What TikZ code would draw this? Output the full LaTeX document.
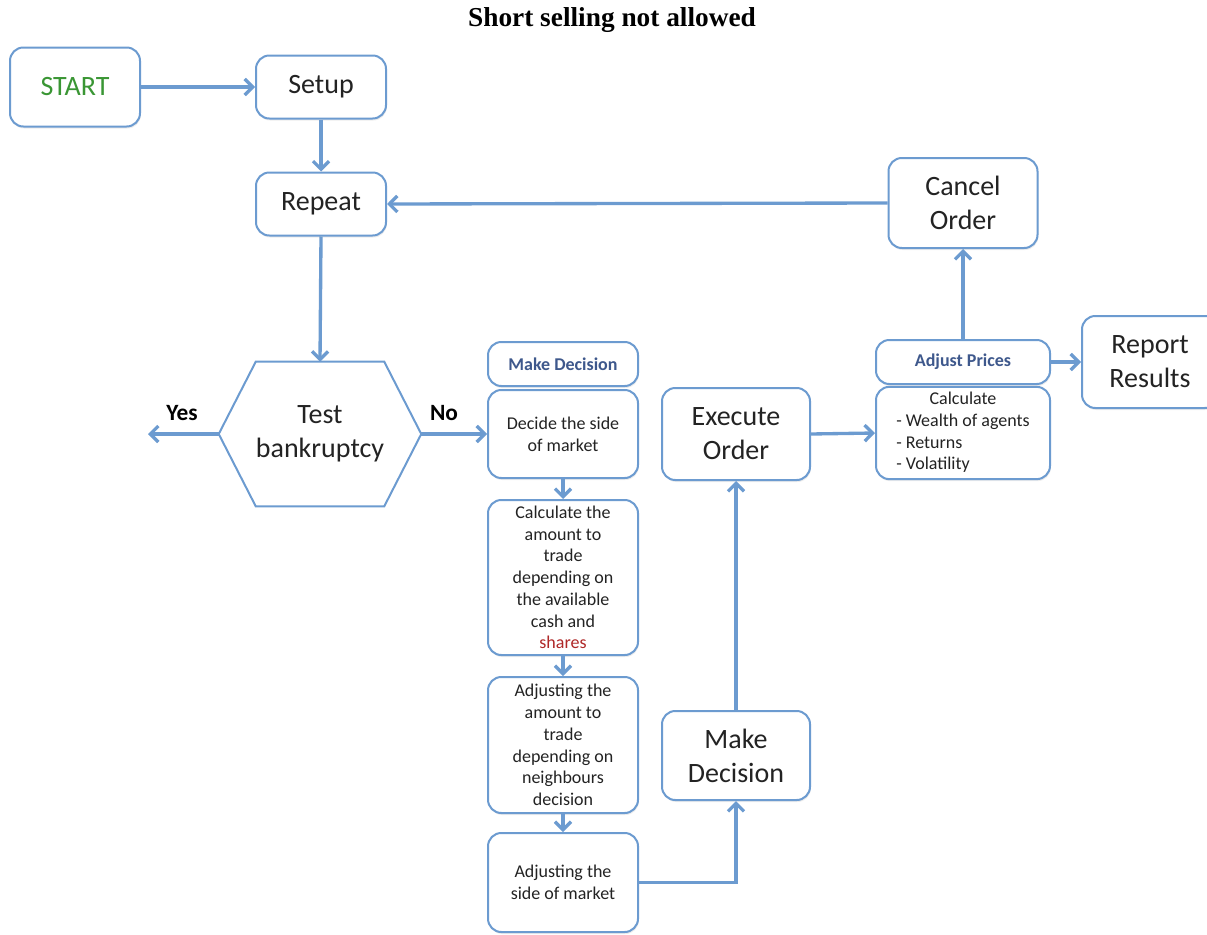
\documentclass[tikz,border=0pt]{standalone}
\usepackage{fontspec}
\setmainfont{Carlito}
\newfontfamily\titlefont{Liberation Serif}
\usetikzlibrary{arrows.meta,calc,shadows}

\definecolor{flowblue}{RGB}{108,155,208}
\definecolor{startgreen}{RGB}{58,150,52}
\definecolor{headblue}{RGB}{62,88,140}
\definecolor{sharered}{RGB}{175,40,40}
\definecolor{textgray}{RGB}{35,35,35}

\begin{document}
\begin{tikzpicture}[x=0.75pt,y=-0.75pt,
  flow/.style={-{Straight Barb[length=6pt,width=12pt]},draw=flowblue,line width=2.5pt},
  big node/.style={rectangle,rounded corners=10pt,draw=flowblue,line width=1.5pt,fill=white,
    align=center,text=textgray,inner sep=2pt,font=\fontsize{21}{25.5}\selectfont,
    drop shadow={opacity=0.15,shadow xshift=0.6pt,shadow yshift=-1.5pt}},
  small node/.style={big node,font=\fontsize{13.5}{16.3}\selectfont,minimum width=112.5pt},
  head node/.style={small node,font=\bfseries\fontsize{13.5}{16.3}\selectfont,text=headblue},
  label node/.style={font=\bfseries\fontsize{17.5}{20}\selectfont,text=black}]

 \clip (0,0) rectangle (1207,935);

 \node[font=\titlefont\bfseries\fontsize{20.5}{24}\selectfont] (title) at (612,20) {Short selling not allowed};

 % left column
 \node[big node,minimum width=97.5pt,minimum height=59.25pt] (start) at (75,87) {\textcolor{startgreen}{START}};
 \node[big node,minimum width=97.5pt,minimum height=47.25pt] (setup) at (321,87) {Setup};
 \node[big node,minimum width=97.5pt,minimum height=47.25pt] (repeat) at (321,204) {Repeat};
 \node[align=center,text=textgray,font=\fontsize{21}{25.5}\selectfont,
   minimum width=151.5pt,minimum height=108pt,inner sep=0pt] (test) at (320,434) {Test\\bankruptcy};
 \draw[flowblue,line width=1.5pt] (test.west) -- ($(test.north west)+(37,0)$) -- ($(test.north east)+(-37,0)$)
   -- (test.east) -- ($(test.south east)+(-37,0)$) -- ($(test.south west)+(37,0)$) -- cycle;
 \coordinate (yes end) at (148,434);
 \node[label node] (yes) at (182,413) {Yes};
 \node[label node] (no) at (444,413) {No};

 % decision column
 \node[head node,minimum height=33pt] (mdhead) at (563,364) {Make Decision};
 \node[small node,minimum height=66pt] (decide) at (563,434) {Decide the side\\of market};
 \node[small node,minimum height=116.25pt] (calc) at (563,577.5) {Calculate the\\amount to\\trade\\depending on\\the available\\cash and\\\textcolor{sharered}{shares}};
 \node[small node,minimum height=102pt] (adjamt) at (563,745) {Adjusting the\\amount to\\trade\\depending on\\neighbours\\decision};
 \node[small node,minimum height=74.25pt] (adjside) at (563,882.5) {Adjusting the\\side of market};

 % order column
 \node[big node,minimum width=111pt,minimum height=66.75pt] (makedec) at (736,755.5) {Make\\Decision};
 \node[big node,minimum width=111pt,minimum height=69pt] (execute) at (736,434) {Execute\\Order};

 % right column
 \node[small node,minimum width=130.5pt,minimum height=67.5pt] (calcstats) at (963,433)
   {\begin{tabular}{@{}l@{}}\multicolumn{1}{@{}c@{}}{Calculate}\\- Wealth of agents\\- Returns\\- Volatility\end{tabular}};
 \node[head node,minimum width=130.5pt,minimum height=33pt] (adjprices) at (963,362) {Adjust Prices};
 \node[big node,minimum width=111.75pt,minimum height=67.5pt] (cancel) at (963,203) {Cancel\\Order};
 \node[big node,minimum width=102pt,minimum height=69pt] (report) at (1150,362) {Report\\Results};

 \draw[flow] (start.east) -- (setup.west);
 \draw[flow] (setup.south) -- (repeat.north);
 \draw[flow] (repeat.south) -- (test.north);
 \draw[flow] (test.west) -- (yes end);
 \draw[flow] (test.east) -- (decide.west);
 \draw[flow] (decide.south) -- (calc.north);
 \draw[flow] (calc.south) -- (adjamt.north);
 \draw[flow] (adjamt.south) -- (adjside.north);
 \draw[flow] (adjside.east) -| (makedec.south);
 \draw[flow] (makedec.north) -- (execute.south);
 \draw[flow] (execute.east) -- (calcstats.west);
 \draw[flow] (adjprices.north) -- (cancel.south);
 \draw[flow] (cancel.west) -- (repeat.east);
 \draw[flow] (adjprices.east) -- (report.west);

\end{tikzpicture}
\end{document}
